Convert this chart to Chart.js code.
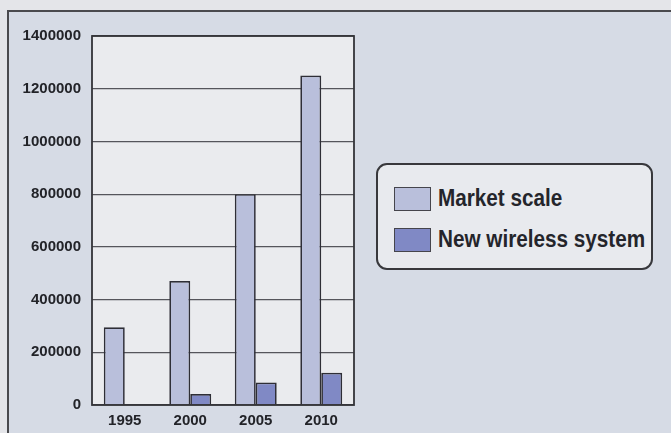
<!DOCTYPE html>
<html>
<head>
<meta charset="utf-8">
<script src="https://cdn.jsdelivr.net/npm/chart.js@4/dist/chart.umd.min.js"></script>
<style>
  html, body { margin: 0; padding: 0; }
  body { width: 671px; height: 433px; background: #e4e5e9; position: relative; overflow: hidden; }
  #panel { position: absolute; left: 7px; top: 10px; width: 700px; height: 460px; background: #d6dbe5;
           border-left: 2px solid #4a4a4e; border-top: 2px solid #4a4a4e; }
  #wrap { position: absolute; left: 0; top: 0; width: 671px; height: 433px; }
  #legend { position: absolute; left: 376px; top: 163px; width: 277px; height: 107px; box-sizing: border-box;
            border: 2px solid #38383c; border-radius: 11px; background: #e8eaee; }
  .item { position: absolute; left: 16px; height: 25px; display: flex; align-items: center; }
  .sw { width: 35px; height: 22px; border: 1.5px solid #45454c; box-sizing: content-box; flex: none; }
  .lbl { font-family: "Liberation Sans", Arial, sans-serif; font-weight: bold;
         font-size: 23px; color: #24252b; margin-left: 7px; white-space: nowrap;
         display: inline-block; transform: scaleX(0.9); transform-origin: left center; }
</style>
</head>
<body>
<div id="panel"></div>
<div id="wrap"><canvas id="c" width="671" height="433"></canvas></div>
<div id="legend"></div>
<script>
const years = ['1995', '2000', '2005', '2010'];
const marketScale = [295000, 470000, 800000, 1250000];
const newWireless = [null, 42000, 85000, 122000];
const seriesNames = ['Market scale', 'New wireless system'];
const seriesColors = ['#b9bfdb', '#8089c5'];
const yMax = 1400000;
const yStep = 200000;

const plotBg = {
  id: 'plotBg',
  beforeDraw(chart) {
    const { ctx, chartArea: a } = chart;
    ctx.save();
    ctx.fillStyle = '#eaebee';
    ctx.fillRect(a.left, a.top, a.right - a.left, a.bottom - a.top);
    ctx.restore();
  },
  afterDatasetsDraw(chart) {
    const { ctx, chartArea: a } = chart;
    ctx.save();
    ctx.strokeStyle = '#333338';
    ctx.lineWidth = 1.8;
    ctx.strokeRect(a.left, a.top, a.right - a.left, a.bottom - a.top);
    ctx.restore();
  }
};

const chart = new Chart(document.getElementById('c'), {
  type: 'bar',
  data: {
    labels: years,
    datasets: [
      { label: seriesNames[0], data: marketScale, backgroundColor: seriesColors[0], borderColor: '#2e2e36', borderWidth: 1.7 },
      { label: seriesNames[1], data: newWireless, backgroundColor: seriesColors[1], borderColor: '#2e2e36', borderWidth: 1.7 }
    ]
  },
  options: {
    responsive: false,
    animation: false,
    devicePixelRatio: 1,
    layout: { padding: { left: 0, top: 36, right: 317, bottom: 0 } },
    datasets: { bar: { categoryPercentage: 0.64, barPercentage: 1.0 } },
    plugins: { legend: { display: false }, tooltip: { enabled: false } },
    scales: {
      x: {
        grid: { display: false, drawTicks: false },
        border: { display: false },
        ticks: { color: '#222328', padding: 7, font: { family: 'Liberation Sans, Arial, sans-serif', weight: 'bold', size: 15 } },
        afterFit(s) { s.height = 28; }
      },
      y: {
        min: 0, max: yMax,
        grid: { color: '#55555b', lineWidth: 1.2, drawTicks: false },
        border: { display: false },
        ticks: {
          stepSize: yStep, padding: 11, color: '#222328',
          font: { family: 'Liberation Sans, Arial, sans-serif', weight: 'bold', size: 15 },
          callback: v => String(v)
        },
        afterFit(s) { s.width = 92; }
      }
    }
  },
  plugins: [plotBg]
});

const legend = document.getElementById('legend');
chart.data.datasets.forEach((ds, i) => {
  const it = document.createElement('div');
  it.className = 'item';
  it.style.top = (21 + i * 41) + 'px';
  const sw = document.createElement('div');
  sw.className = 'sw';
  sw.style.background = ds.backgroundColor;
  const lb = document.createElement('span');
  lb.className = 'lbl';
  lb.textContent = ds.label;
  it.appendChild(sw); it.appendChild(lb);
  legend.appendChild(it);
});
</script>
</body>
</html>
